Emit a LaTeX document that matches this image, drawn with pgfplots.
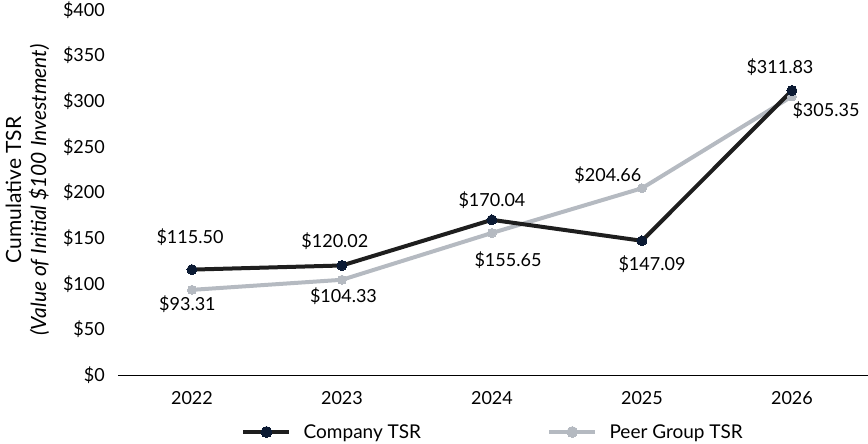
\documentclass[border=0pt]{standalone}
\usepackage{fontspec}
\setmainfont{Lato}
\usepackage{pgfplots}
\pgfplotsset{compat=1.18}
\definecolor{navy}{HTML}{0B1A33}
\definecolor{dk}{HTML}{1E1E1E}
\definecolor{peer}{HTML}{B5BAC1}
\begin{document}
\begin{tikzpicture}[font=\fontsize{18bp}{21bp}\selectfont]
\begin{axis}[at={(0,0)}, anchor=south west, scale only axis,
  width=750bp, height=365bp,
  xmin=-0.493, xmax=4.507, ymin=0, ymax=400,
  xtick={0,1,2,3,4}, xticklabels={2022,2023,2024,2025,2026},
  ytick={0,50,100,150,200,250,300,350,400},
  yticklabels={\$0,\$50,\$100,\$150,\$200,\$250,\$300,\$350,\$400},
  major tick length=0,
  axis x line*=bottom, axis y line*=left,
  y axis line style={draw=none},
  x axis line style={draw=black, line width=0.8bp},
  xticklabel style={anchor=center, yshift=-23bp, inner sep=0pt},
  yticklabel style={anchor=east, xshift=-13bp, inner sep=0pt},
  clip=false,
  reverse legend,
  legend columns=2,
  legend cell align=left,
  legend style={draw=none, fill=none, at={(rel axis cs:0.5,0)}, yshift=-57bp, anchor=center,
    font=\fontsize{19bp}{22bp}\selectfont,
    /tikz/every odd column/.append style={column sep=10bp},
    /tikz/every even column/.append style={column sep=124bp}},
  legend image code/.code={\draw[mark repeat=2, mark phase=2,#1, line width=4.5bp, mark size=5.5bp] plot coordinates {(0bp,0bp)(23bp,0bp)(46bp,0bp)};},
]
\addplot[peer, line width=4bp, mark=*, mark size=4.5bp, mark options={fill=peer, draw=peer, line width=0pt}]
  coordinates {(0,93.31)(1,104.33)(2,155.65)(3,204.66)(4,305.35)};
\addlegendentry{Peer Group TSR}
\addplot[dk, line width=4bp, mark=*, mark size=5bp, mark options={fill=navy, draw=navy, line width=0pt}]
  coordinates {(0,115.50)(1,120.02)(2,170.04)(3,147.09)(4,311.83)};
\addlegendentry{Company TSR}
\node at (axis cs:-0.013,151.2) {\$115.50};
\node at (axis cs:-0.03,77.8) {\$93.31};
\node at (axis cs:0.953,146.3) {\$120.02};
\node at (axis cs:1.01,86.6) {\$104.33};
\node at (axis cs:2.0,191.8) {\$170.04};
\node at (axis cs:2.107,126) {\$155.65};
\node at (axis cs:2.773,219) {\$204.66};
\node at (axis cs:3.067,121) {\$147.09};
\node at (axis cs:3.92,337) {\$311.83};
\node at (axis cs:4.227,290) {\$305.35};
\end{axis}
\node[rotate=90, align=center, font=\fontsize{21bp}{25bp}\selectfont] at (-90.5bp,185bp)
  {Cumulative TSR\\\textit{(Value of Initial \$100 Investment)}};
\pgfresetboundingbox
\path[use as bounding box] (-118bp,-69bp) rectangle (750bp,375bp);
\end{tikzpicture}
\end{document}
